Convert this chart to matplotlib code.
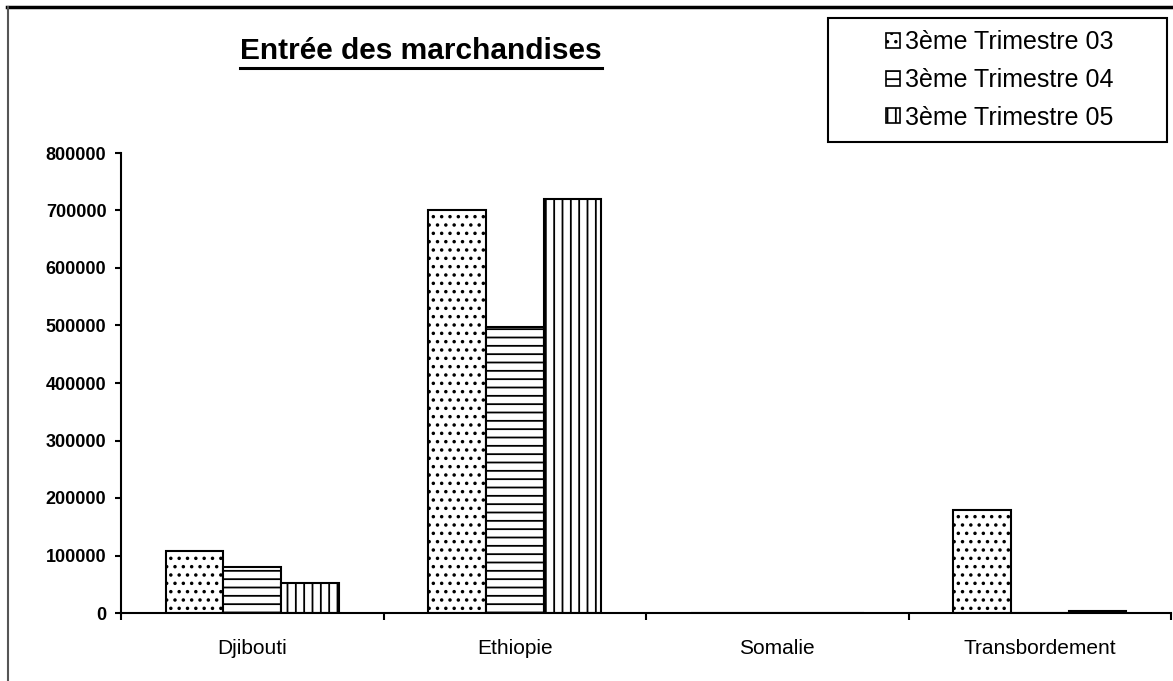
import matplotlib
matplotlib.use("Agg")
import matplotlib.pyplot as plt
from matplotlib.patches import Patch, Rectangle
from matplotlib.lines import Line2D
import numpy as np

# --- data ---
categories = ["Djibouti", "Ethiopie", "Somalie", "Transbordement"]
series_labels = ["3ème Trimestre 03", "3ème Trimestre 04", "3ème Trimestre 05"]
t03 = [108000, 700000, 0, 180000]
t04 = [80000, 497000, 0, 0]
t05 = [52000, 720000, 0, 4000]
y_ticks = [0, 100000, 200000, 300000, 400000, 500000, 600000, 700000, 800000]
hatches = ["..", "--", "||"]

plt.rcParams['font.family'] = ['Liberation Sans', 'DejaVu Sans']
plt.rcParams['hatch.linewidth'] = 1.3

W, H = 1173, 681
fig = plt.figure(figsize=(W / 100, H / 100), dpi=100, facecolor='white')
ax = fig.add_axes([121 / W, 1 - 613 / H, 1050 / W, 460 / H])

x = np.arange(len(categories))
bw = 0.22
for i, vals in enumerate([t03, t04, t05]):
    ax.bar(x + (i - 1) * bw, vals, bw, facecolor='white', edgecolor='black',
           linewidth=1.5, hatch=hatches[i], label=series_labels[i], zorder=2)

ax.set_xlim(-0.5, len(categories) - 0.5)
ax.set_ylim(0, 800000)
ax.set_yticks(y_ticks)
ax.set_yticklabels([str(v) for v in y_ticks], fontsize=13, fontweight='bold')
ax.set_xticks(np.arange(len(categories) + 1) - 0.5)
ax.set_xticklabels([])
ax.set_xticks(x, minor=True)
ax.set_xticklabels(categories, minor=True, fontsize=15)
ax.tick_params(axis='x', which='minor', length=0, pad=19)
ax.tick_params(axis='x', which='major', length=5, width=1.5, direction='out')
ax.tick_params(axis='y', length=4.5, width=1.5, direction='out', pad=6)

for s in ['top', 'right']:
    ax.spines[s].set_visible(False)
for s in ['left', 'bottom']:
    ax.spines[s].set_linewidth(1.5)

# title with underline
title = fig.text(421 / W, 1 - 51 / H, "Entrée des marchandises", ha='center',
                 va='center', fontsize=21.5, fontweight='bold')
fig.canvas.draw()
bb = title.get_window_extent().transformed(fig.transFigure.inverted())
fig.add_artist(Line2D([bb.x0, bb.x1], [bb.y0 - 0.004, bb.y0 - 0.004],
                      transform=fig.transFigure, color='black', lw=2.2))

# legend box
fig.patches.append(Rectangle((828 / W, 1 - 142 / H), 339 / W, 124 / H,
                             transform=fig.transFigure, fill=False,
                             edgecolor='black', linewidth=1.5))
handles = [Patch(facecolor='white', edgecolor='black', hatch=h, linewidth=1.2)
           for h in hatches]
fig.legend(handles, series_labels, loc='center', frameon=False,
           bbox_to_anchor=(1000 / W, 1 - 80 / H), fontsize=18,
           handlelength=0.55, handleheight=0.55, handletextpad=0.2,
           labelspacing=0.55)

# outer chart border (top and left)
fig.add_artist(Line2D([7 / W, 1], [1 - 7 / H, 1 - 7 / H], transform=fig.transFigure,
                      color='black', lw=2.5))
fig.add_artist(Line2D([8 / W, 8 / W], [0, 1 - 7 / H], transform=fig.transFigure,
                      color='#555555', lw=1.5))

fig.savefig("out.png", dpi=100)
